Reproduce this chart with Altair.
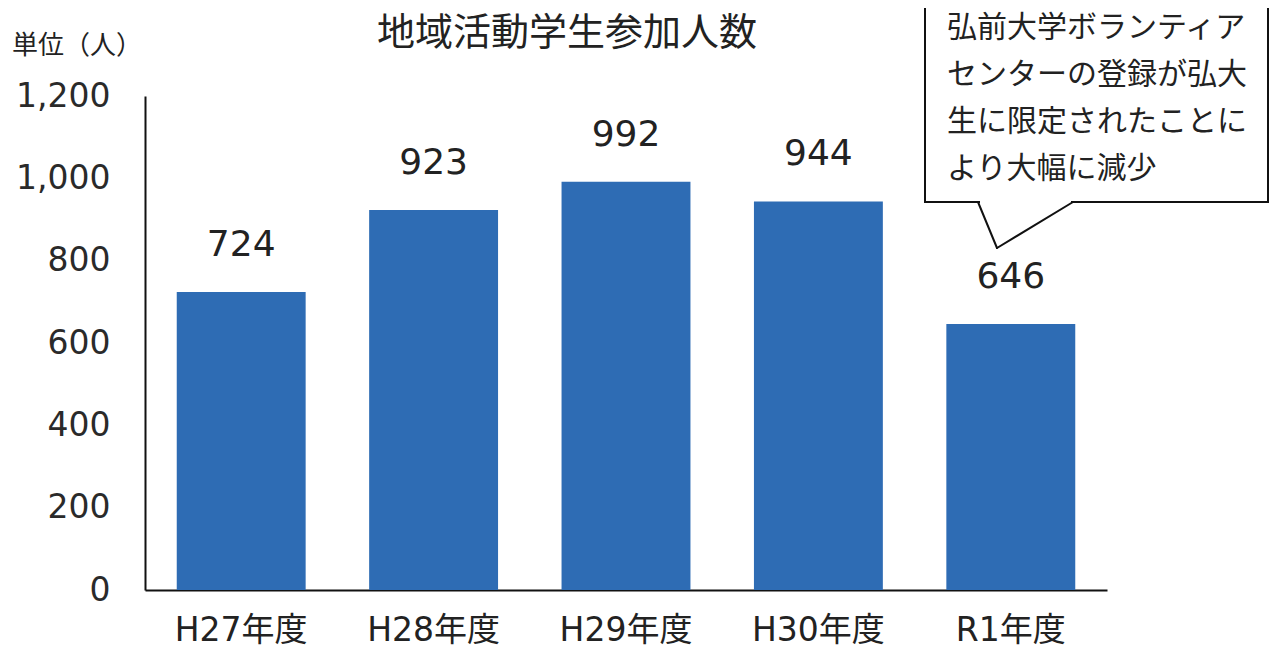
import altair as alt
import pandas as pd

years = ["H27年度", "H28年度", "H29年度", "H30年度", "R1年度"]
counts = [724, 923, 992, 944, 646]
y_ticks = [0, 200, 400, 600, 800, 1000, 1200]
title_text = "地域活動学生参加人数"
unit_text = "単位（人）"
callout_lines = ["弘前大学ボランティア", "センターの登録が弘大", "生に限定されたことに", "より大幅に減少"]

df = pd.DataFrame({"year": years, "count": counts})
one = pd.DataFrame({"k": [0]})

LATIN = "DejaVu Sans, Noto Sans CJK JP"
CJK = "Noto Sans CJK JP"
INK = "#222222"
BAR = "#2e6cb4"

x_enc = alt.X(
    "year:N",
    sort=years,
    title=None,
    scale=alt.Scale(paddingInner=0.33, paddingOuter=0.165),
    axis=alt.Axis(
        labelAngle=0, labelFont=LATIN, labelFontSize=33, labelColor=INK,
        ticks=False, labelPadding=24, domainColor="#111111", domainWidth=2,
    ),
)
y_enc = alt.Y(
    "count:Q",
    title=None,
    scale=alt.Scale(domain=[0, 1200], nice=False),
    axis=alt.Axis(
        values=y_ticks, format=",.0f", grid=False, ticks=False,
        labelFont=LATIN, labelFontSize=33, labelColor="#2a2a2a", labelPadding=35,
        domainColor="#111111", domainWidth=2,
    ),
)

base = alt.Chart(df)
bars = base.mark_bar(color=BAR).encode(x=x_enc, y=y_enc)
labels = base.mark_text(
    font=LATIN, fontSize=36, color=INK, baseline="alphabetic", dy=-36
).encode(x=alt.X("year:N", sort=years), y=alt.Y("count:Q"), text=alt.Text("count:Q"))

title = alt.Chart(one).mark_text(
    font=CJK, fontSize=38, color=INK, align="center", baseline="middle"
).encode(x=alt.value(422), y=alt.value(-62), text=alt.value(title_text))

unit = alt.Chart(one).mark_text(
    font=CJK, fontSize=26, color=INK, align="left", baseline="middle"
).encode(x=alt.value(-133), y=alt.value(-50), text=alt.value(unit_text))

box = alt.Chart(one).mark_rect(fill="white", stroke="#111111", strokeWidth=2).encode(
    x=alt.value(780), x2=alt.value(1123), y=alt.value(-104), y2=alt.value(106)
)
gap = alt.Chart(one).mark_rule(color="white", strokeWidth=4).encode(
    x=alt.value(835), x2=alt.value(926), y=alt.value(106), y2=alt.value(106)
)
tail1 = alt.Chart(one).mark_rule(color="#111111", strokeWidth=2, strokeCap="round").encode(
    x=alt.value(833), x2=alt.value(852), y=alt.value(106), y2=alt.value(152)
)
tail2 = alt.Chart(one).mark_rule(color="#111111", strokeWidth=2, strokeCap="round").encode(
    x=alt.value(852), x2=alt.value(928), y=alt.value(152), y2=alt.value(106)
)
callout = alt.Chart(one).mark_text(
    font=CJK, fontSize=30, color=INK, align="left", baseline="middle", lineHeight=47
).encode(x=alt.value(802), y=alt.value(-68), text=alt.value(callout_lines))

chart = alt.layer(bars, labels, title, unit, box, gap, tail1, tail2, callout).properties(
    width=962,
    height=494,
    autosize=alt.AutoSizeParams(type="none"),
    padding={"left": 137, "top": 88, "right": 163, "bottom": 57},
    background="white",
).configure_view(stroke=None)

chart.save("out.html", embed_options={"renderer": "svg", "actions": False})
